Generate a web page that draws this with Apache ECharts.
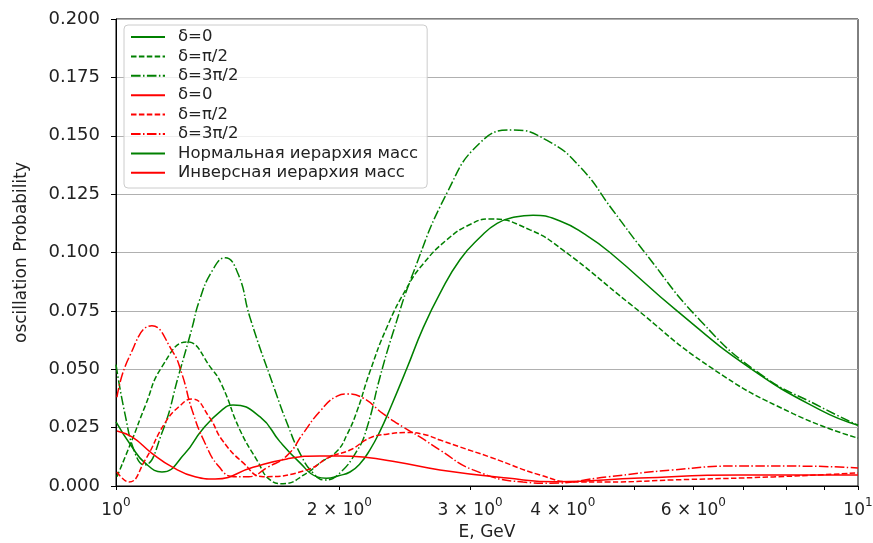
<!DOCTYPE html>
<html>
<head>
<meta charset="utf-8">
<script src="https://cdn.jsdelivr.net/npm/echarts@6/dist/echarts.min.js"></script>
<style>
html,body{margin:0;padding:0;background:#fff;}
#chart{width:873px;height:543px;}
</style>
</head>
<body>
<div id="chart"></div>
<script>
// ---- data (E in GeV, probability) ----
const E_G0 = [1.000,1.051,1.094,1.153,1.239,1.306,1.390,1.438,1.564,1.664,1.770,1.866,1.920,2.000,2.067,2.132,2.199,2.269,2.340,2.467,2.592,2.733,2.909,3.095,3.263,3.450,3.648,3.967,4.298,4.632,5.703,7.154,8.888,10.0];
const P_G0 = [0.0275,0.0167,0.0099,0.0060,0.0140,0.0240,0.0326,0.0347,0.0296,0.0189,0.0099,0.0039,0.0033,0.0045,0.0060,0.0095,0.0155,0.0235,0.0330,0.0505,0.0675,0.0825,0.0970,0.1065,0.1125,0.1152,0.1160,0.1135,0.1075,0.1000,0.0750,0.0505,0.0326,0.0260];

const E_G1 = [1.003,1.051,1.094,1.153,1.246,1.347,1.390,1.469,1.549,1.613,1.679,1.809,1.883,1.986,2.048,2.112,2.199,2.318,2.467,2.592,2.793,3.000,3.191,3.614,4.004,4.928,6.317,8.173,10.0];
const P_G1 = [0.0040,0.0197,0.0340,0.0510,0.0617,0.0500,0.0430,0.0240,0.0110,0.0026,0.0010,0.0056,0.0099,0.0150,0.0220,0.0320,0.0490,0.0680,0.0850,0.0950,0.1055,0.1120,0.1144,0.1097,0.1010,0.0780,0.0510,0.0310,0.0205];

const E_G2 = [1.000,1.028,1.061,1.091,1.153,1.216,1.266,1.294,1.347,1.403,1.460,1.516,1.640,1.700,1.770,1.843,1.912,1.986,2.112,2.179,2.269,2.362,2.513,2.793,3.095,3.428,3.810,4.220,4.675,5.132,6.124,7.379,8.888,10.0];
const P_G2 = [0.0520,0.0310,0.0140,0.0090,0.0227,0.0480,0.0676,0.0790,0.0920,0.0977,0.0910,0.0720,0.0405,0.0270,0.0140,0.0056,0.0026,0.0045,0.0150,0.0250,0.0467,0.0656,0.0910,0.1255,0.1470,0.1525,0.1480,0.1367,0.1180,0.1010,0.0710,0.0480,0.0340,0.0260];

const E_R0 = [1.003,1.051,1.118,1.190,1.278,1.360,1.530,1.700,1.883,2.004,2.152,2.391,2.733,3.365,3.930,5.084,6.935,10.0];
const P_R0 = [0.0236,0.0210,0.0140,0.0082,0.0040,0.0030,0.0080,0.0116,0.0129,0.0129,0.0124,0.0103,0.0069,0.0034,0.0018,0.0034,0.0047,0.0047];

const E_R1 = [1.003,1.041,1.094,1.164,1.216,1.266,1.335,1.390,1.483,1.580,1.809,1.942,2.067,2.199,2.318,2.467,2.592,2.733,2.909,3.191,3.728,4.130,4.589,5.633,7.684,10.0];
const P_R1 = [0.0060,0.0017,0.0110,0.0270,0.0340,0.0373,0.0296,0.0197,0.0100,0.0040,0.0069,0.0125,0.0154,0.0206,0.0222,0.0229,0.0222,0.0197,0.0167,0.0124,0.0047,0.0017,0.0017,0.0026,0.0039,0.0056];

const E_R2 = [1.003,1.041,1.118,1.190,1.227,1.266,1.318,1.377,1.440,1.510,1.600,1.700,1.787,1.883,1.986,2.048,2.152,2.290,2.436,2.568,2.733,3.029,3.536,3.845,4.589,5.633,6.935,8.500,10.0];
const P_R2 = [0.0380,0.0550,0.0686,0.0580,0.0480,0.0326,0.0184,0.0082,0.0040,0.0040,0.0080,0.0130,0.0225,0.0320,0.0385,0.0394,0.0377,0.0310,0.0253,0.0210,0.0154,0.0069,0.0017,0.0012,0.0039,0.0069,0.0086,0.0085,0.0077];

const legendNames = ['δ=0','δ=π/2','δ=3π/2','δ=0\u200b','δ=π/2\u200b','δ=3π/2\u200b','Нормальная иерархия масс','Инверсная иерархия масс'];
const xTickValues = [1,2,3,4,6,10];
const xTickLabels = ['10^0','2 × 10^0','3 × 10^0','4 × 10^0','6 × 10^0','10^1'];
const xTickMarks = [1,2,3,4,5,6,7,8,9,10];
const yTickValues = [0,0.025,0.05,0.075,0.1,0.125,0.15,0.175,0.2];
const yTickLabels = ['0.000','0.025','0.050','0.075','0.100','0.125','0.150','0.175','0.200'];

// ---- chart ----
const zip = (a,b) => a.map((v,i)=>[v,b[i]]);
const GREEN = '#008000', RED = '#ff0000';
const DASH = [5.5,2.4];
const DASHDOT = [9.6,2.4,1.5,2.4];
function mk(name, E, P, color, type){
  return {name, type:'line', data: zip(E,P), showSymbol:false, symbol:'none', smooth:0.5,
    lineStyle:{color, width:1.5, type}, itemStyle:{color}, emphasis:{disabled:true}};
}
const FONT = 'DejaVu Sans';
const TXT = '#222';
const chart = echarts.init(document.getElementById('chart'), null, {renderer:'canvas'});
chart.setOption({
  animation:false,
  backgroundColor:'#fff',
  textStyle:{fontFamily:FONT},
  grid:{left:116, right:15, top:19, bottom:57, containLabel:false, outerBoundsMode:'none',
        show:true, borderColor:'#000', borderWidth:1, backgroundColor:'transparent'},
  legend:{
    orient:'vertical', left:124, top:25,
    data: legendNames,
    itemWidth:34, itemHeight:14, itemGap:2.4,
    padding:[3.5,9,6.7,6],
    backgroundColor:'rgba(255,255,255,0.8)', borderColor:'#cccccc', borderWidth:1, borderRadius:4,
    itemStyle:{opacity:0},
    textStyle:{fontFamily:FONT, fontSize:16.5, lineHeight:17, color:TXT, padding:[0,0,0,8]},
    selectedMode:false
  },
  xAxis:{
    type:'log', logBase:10, min:1, max:10,
    name:'E, GeV', nameLocation:'middle', nameGap:38,
    nameTextStyle:{fontFamily:FONT, fontSize:17, color:TXT},
    axisLine:{show:true, lineStyle:{color:'#000', width:1}},
    axisTick:{show:true, length:4, lineStyle:{color:'#000'}, customValues: xTickMarks},
    splitLine:{show:false},
    minorTick:{show:false},
    axisLabel:{
      customValues: xTickValues,
      margin:11,
      formatter: function(v){
        const i = xTickValues.findIndex(t=>Math.abs(t-v)<1e-9);
        if(i<0) return '';
        const parts = xTickLabels[i].split('^');
        return '{b|'+parts[0]+'}{s|'+parts[1]+'}';
      },
      rich:{
        b:{fontFamily:FONT, fontSize:17, color:TXT, lineHeight:22, verticalAlign:'bottom'},
        s:{fontFamily:FONT, fontSize:12, color:TXT, lineHeight:22, verticalAlign:'top', padding:[0,0,9,0]}
      }
    }
  },
  yAxis:{
    type:'value', min:0, max:0.2, interval:0.025,
    name:'oscillation Probability', nameLocation:'middle', nameGap:86,
    nameTextStyle:{fontFamily:FONT, fontSize:17, color:TXT},
    axisLine:{show:true, lineStyle:{color:'#000', width:1}},
    axisTick:{show:true, length:5, lineStyle:{color:'#000'}},
    splitLine:{show:true, lineStyle:{color:'#b0b0b0', width:1}},
    axisLabel:{
      margin:16, fontFamily:FONT, fontSize:18, color:TXT,
      formatter: function(v){
        const i = yTickValues.findIndex(t=>Math.abs(t-v)<1e-9);
        return i<0 ? '' : yTickLabels[i];
      }
    }
  },
  series:[
    mk(legendNames[0], E_G0, P_G0, GREEN, 'solid'),
    mk(legendNames[1], E_G1, P_G1, GREEN, DASH),
    mk(legendNames[2], E_G2, P_G2, GREEN, DASHDOT),
    mk(legendNames[3], E_R0, P_R0, RED, 'solid'),
    mk(legendNames[4], E_R1, P_R1, RED, DASH),
    mk(legendNames[5], E_R2, P_R2, RED, DASHDOT),
    {name:legendNames[6], type:'line', data:[], showSymbol:false, symbol:'none', lineStyle:{color:GREEN, width:3}, itemStyle:{color:GREEN}},
    {name:legendNames[7], type:'line', data:[], showSymbol:false, symbol:'none', lineStyle:{color:RED, width:3}, itemStyle:{color:RED}}
  ]
});
</script>
</body>
</html>
